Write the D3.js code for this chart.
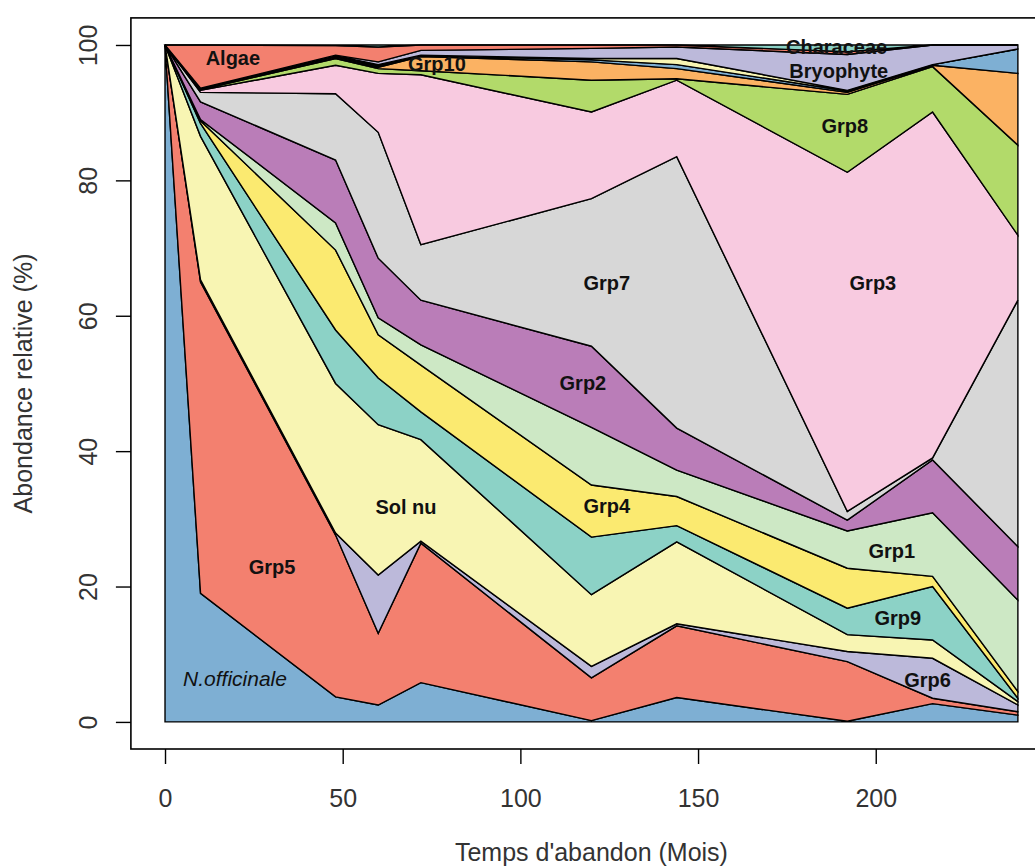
<!DOCTYPE html>
<html>
<head>
<meta charset="utf-8">
<script src="https://cdn.jsdelivr.net/npm/d3@7"></script>
<style>
  html, body { margin: 0; padding: 0; background: #ffffff; }
  svg { display: block; }
</style>
</head>
<body>
<div id="chart"></div>
<script>
// ---- Data (relative abundance, %, per abandonment time in months) ----
const months = [0, 10, 48, 60, 72, 120, 144, 192, 216, 240];

const nOfficinale = [100, 19, 3.7, 2.5, 5.8, 0.2, 3.6, 0.1, 2.7, 1.0];
const grp5        = [0, 46, 23.9, 10.6, 20.6, 6.3, 10.6, 8.8, 0.8, 0.5];
const grp6        = [0, 0.3, 0.3, 8.6, 0.3, 1.7, 0.3, 1.5, 5.9, 1.0];
const solNu       = [0, 21.2, 22.1, 22.2, 15.0, 10.6, 12.1, 2.5, 2.7, 0.5];
const grp9        = [0, 1.9, 7.9, 6.9, 4.1, 8.5, 2.4, 3.9, 7.9, 0.5];
const grp4        = [0, 0.4, 11.8, 6.4, 6.9, 7.7, 4.3, 5.9, 1.5, 1.0];
const grp1        = [0, 0.2, 4.0, 2.5, 3.0, 8.5, 3.9, 5.5, 9.4, 13.5];
const grp2        = [0, 2.6, 9.3, 8.8, 6.6, 12.0, 6.2, 1.6, 7.8, 7.9];
const grp7        = [0, 1.4, 9.8, 18.6, 8.2, 21.8, 40.1, 1.3, 0.3, 36.4];
const grp3        = [0, 0.3, 4.2, 8.7, 25.1, 12.8, 11.3, 50.1, 51.1, 9.6];
const grp8        = [0, 0.1, 1.0, 0.7, 0.6, 4.7, 0.2, 11.5, 6.7, 13.3];
const grp10       = [0, 0.1, 0.2, 0.2, 2.1, 2.7, 1.5, 0.3, 0.2, 10.6];
const grp11       = [0, 0, 0.1, 0.2, 0.1, 0.3, 0.6, 0.2, 0.1, 3.6];
const grp12       = [0, 0, 0.1, 0.2, 0.1, 0.2, 0.9, 0.1, 0, 0];
const bryophyte   = [0, 0.1, 0.1, 0.4, 0.7, 1.5, 1.7, 5.3, 2.9, 0.6];
const algae       = [0, 6.4, 1.4, 2.2, 0.8, 0.5, 0.3, 0.4, 0, 0];
const characeae   = [0, 0, 0.1, 0.3, 0, 0, 0, 1.0, 0, 0];

// stacking order, bottom to top
const seriesNames  = ["N.officinale", "Grp5", "Grp6", "Sol nu", "Grp9", "Grp4", "Grp1", "Grp2",
                      "Grp7", "Grp3", "Grp8", "Grp10", "Grp11", "Grp12", "Bryophyte", "Algae", "Characeae"];
const seriesValues = [nOfficinale, grp5, grp6, solNu, grp9, grp4, grp1, grp2,
                      grp7, grp3, grp8, grp10, grp11, grp12, bryophyte, algae, characeae];
const seriesColors = ["#7EAFD3", "#F3806F", "#BCB9DA", "#F8F5B3", "#8CD2C6", "#FBEA70", "#CDE8C5", "#BA7DB8",
                      "#D7D7D7", "#F8CAE0", "#B2DA6A", "#FBB263", "#7EAFD3", "#F8F5B3", "#BCB9DA", "#F3806F", "#8CD2C6"];

// in-plot labels (data coordinates)
const labelText   = ["Algae", "Grp10", "Characeae", "Bryophyte", "Grp8", "Grp7", "Grp3", "Grp2",
                     "Sol nu", "Grp4", "Grp1", "Grp5", "Grp9", "Grp6", "N.officinale"];
const labelMonth  = [19.1, 76.5, 189.0, 189.6, 191.3, 124.3, 199.2, 117.6, 67.8, 124.3, 204.5, 30.1, 206.2, 214.6, 19.7];
const labelPct    = [98.1, 97.2, 99.7, 96.2, 88.0, 64.8, 64.8, 50.1, 31.7, 31.9, 25.2, 22.9, 15.3, 6.2, 6.4];

const xTicks = [0, 50, 100, 150, 200];
const yTicks = [0, 20, 40, 60, 80, 100];
const xTitle = "Temps d'abandon (Mois)";
const yTitle = "Abondance relative (%)";

// ---- Build table ----
const table = months.map((m, i) => {
  const row = { month: m };
  seriesNames.forEach((n, k) => { row[n] = seriesValues[k][i]; });
  return row;
});

const W = 1035, H = 866;
const svg = d3.select("#chart").append("svg").attr("width", W).attr("height", H);

const x = d3.scaleLinear().domain([-9.6, 249.6]).range([130.9, 1052]);
const y = d3.scaleLinear().domain([-4, 104]).range([749, 17.9]);

const stack = d3.stack().keys(seriesNames).order(d3.stackOrderNone).offset(d3.stackOffsetNone);
const layers = stack(table);

const area = d3.area()
  .x(d => x(d.data.month))
  .y0(d => y(d[0]))
  .y1(d => y(d[1]));

svg.append("g").selectAll("path")
  .data(layers)
  .join("path")
  .attr("d", area)
  .attr("fill", (d, i) => seriesColors[i])
  .attr("stroke", "#000")
  .attr("stroke-width", 1.4)
  .attr("stroke-linejoin", "miter");

// labels
const fontFam = "'Liberation Sans', Arial, Helvetica, sans-serif";
svg.append("g").selectAll("text")
  .data(labelText)
  .join("text")
  .attr("x", (d, i) => x(labelMonth[i]))
  .attr("y", (d, i) => y(labelPct[i]))
  .attr("dy", "0.35em")
  .attr("text-anchor", "middle")
  .attr("font-family", fontFam)
  .attr("font-size", d => d === "N.officinale" ? 21 : 20)
  .attr("font-weight", d => d === "N.officinale" ? "normal" : "bold")
  .attr("font-style", d => d === "N.officinale" ? "italic" : "normal")
  .attr("fill", "#111")
  .text(d => d);

// box
svg.append("rect")
  .attr("x", x(-9.6)).attr("y", y(104))
  .attr("width", x(249.6) - x(-9.6)).attr("height", y(-4) - y(104))
  .attr("fill", "none").attr("stroke", "#000").attr("stroke-width", 1.6);

// axes
const gx = svg.append("g").attr("transform", `translate(0,${y(-4)})`)
  .call(d3.axisBottom(x).tickValues(xTicks).tickSize(15).tickFormat(d3.format("d")));
gx.select(".domain").remove();
gx.selectAll(".tick line").attr("stroke", "#000").attr("stroke-width", 1.4);
gx.selectAll(".tick text")
  .attr("y", 58).attr("dy", 0)
  .attr("font-family", fontFam).attr("font-size", 25).attr("fill", "#333");

const gy = svg.append("g").attr("transform", `translate(${x(-9.6)},0)`)
  .call(d3.axisLeft(y).tickValues(yTicks).tickSize(15).tickFormat(d3.format("d")));
gy.select(".domain").remove();
gy.selectAll(".tick line").attr("stroke", "#000").attr("stroke-width", 1.4);
gy.selectAll(".tick text")
  .attr("x", 0).attr("dy", 0)
  .attr("text-anchor", "middle")
  .attr("transform", "translate(-34,0) rotate(-90)")
  .attr("font-family", fontFam).attr("font-size", 25).attr("fill", "#333");

// axis titles
svg.append("text")
  .attr("x", (x(0) + x(240)) / 2).attr("y", 861)
  .attr("text-anchor", "middle")
  .attr("font-family", fontFam).attr("font-size", 25).attr("fill", "#333")
  .text(xTitle);

svg.append("text")
  .attr("transform", `translate(32,${(y(0) + y(100)) / 2}) rotate(-90)`)
  .attr("text-anchor", "middle")
  .attr("font-family", fontFam).attr("font-size", 25).attr("fill", "#333")
  .text(yTitle);
</script>
</body>
</html>
